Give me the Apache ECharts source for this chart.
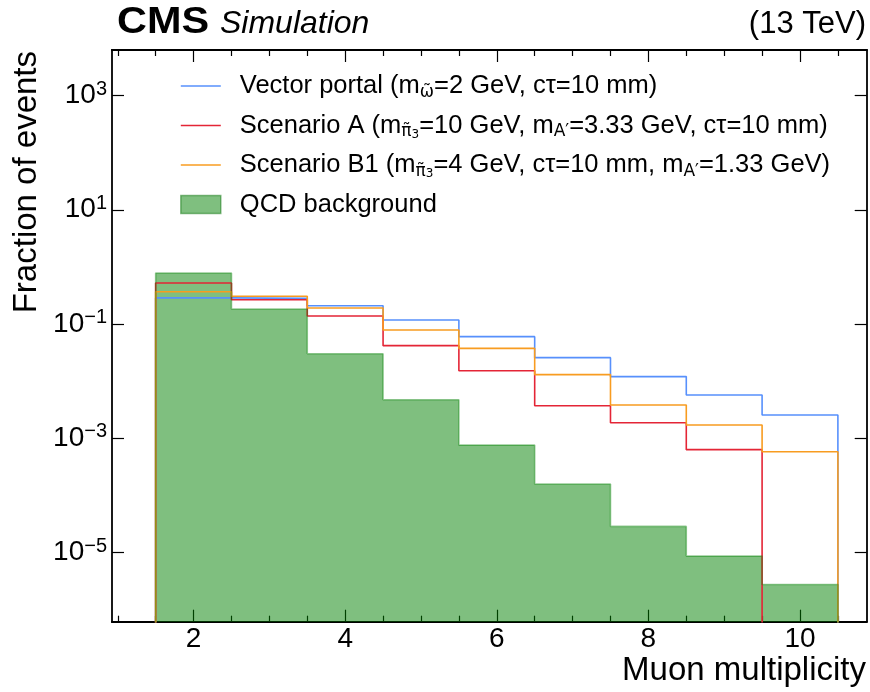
<!DOCTYPE html>
<html>
<head>
<meta charset="utf-8">
<script src="https://cdn.jsdelivr.net/npm/echarts@6/dist/echarts.min.js"></script>
<style>html,body{margin:0;padding:0;background:#fff}#c{width:870px;height:692px}</style>
</head>
<body>
<div id="c"></div>
<script>
// ---- data ----
const binEdges = [1.5, 2.5, 3.5, 4.5, 5.5, 6.5, 7.5, 8.5, 9.5, 10.5];
const vectorPortal = [0.285, 0.28, 0.208, 0.117, 0.0597, 0.0256, 0.0119, 0.00566, 0.00253];
const scenarioA   = [0.52, 0.265, 0.137, 0.0415, 0.0151, 0.00368, 0.00185, 0.000624, 0];
const scenarioB1  = [0.366, 0.304, 0.19, 0.078, 0.0372, 0.0129, 0.00379, 0.00169, 0.000575];
const qcdBackground = [0.78, 0.182, 0.030, 0.00469, 0.00075, 0.000156, 0.0000282, 0.0000085, 0.0000027];
const xMajorTicks = [2, 4, 6, 8, 10];
const xMinorTicks = [1, 1.5, 2.5, 3, 3.5, 4.5, 5, 5.5, 6.5, 7, 7.5, 8.5, 9, 9.5, 10.5];
const yTickExponents = [-5, -3, -1, 1, 3];
const seriesNames = ['Vector portal', 'Scenario A', 'Scenario B1', 'QCD background'];
const legendLabels = {
  'Vector portal': '{t|Vector portal (m}{sub|ω̃}{t|=2 GeV, cτ=10 mm)}',
  'Scenario A': '{t|Scenario A (m}{sub|π̃}{ss|3}{t|=10 GeV, m}{sub|A′}{t|=3.33 GeV, cτ=10 mm)}',
  'Scenario B1': '{t|Scenario B1 (m}{sub|π̃}{ss|3}{t|=4 GeV, cτ=10 mm, m}{sub|A′}{t|=1.33 GeV)}',
  'QCD background': '{t|QCD background}'
};

// ---- axis config (log10 units) ----
const X_MIN = 0.924, X_MAX = 10.88;
const Y_MIN = -6.22, Y_MAX = 3.80;
const FLOOR = Y_MIN - 6;
const FONT = "'Liberation Sans', Arial, Helvetica, sans-serif";
const SUBFONT = "'DejaVu Sans', 'Liberation Sans', sans-serif";

function toLog(v) { return v > 0 ? Math.log10(v) : FLOOR; }
function stepPoints(values) {
  const pts = [[binEdges[0], FLOOR]];
  values.forEach((v, i) => pts.push([binEdges[i], toLog(v)]));
  pts.push([binEdges[values.length], toLog(values[values.length - 1])]);
  pts.push([binEdges[values.length], FLOOR]);
  return pts;
}

function xAxisDef(pos, ticks, len, labels) {
  return {
    type: 'value', position: pos, min: X_MIN, max: X_MAX,
    axisLine: { show: true, onZero: false, lineStyle: { color: '#000', width: 1.8 } },
    axisTick: { show: true, inside: true, length: len, customValues: ticks, lineStyle: { color: '#000', width: 1.2 } },
    axisLabel: labels ? { show: true, customValues: ticks, margin: 4, color: '#000', fontSize: 28, fontFamily: FONT } : { show: false },
    splitLine: { show: false }
  };
}
function yAxisDef(pos, labels) {
  return {
    type: 'value', position: pos, min: Y_MIN, max: Y_MAX,
    axisLine: { show: true, onZero: false, lineStyle: { color: '#000', width: 1.8 } },
    axisTick: { show: true, inside: true, length: 12, customValues: yTickExponents, lineStyle: { color: '#000', width: 1.2 } },
    axisLabel: labels ? {
      show: true, customValues: yTickExponents, margin: 5,
      formatter: v => '{b|10}{s|' + (v < 0 ? '\u2212' : '') + Math.abs(v) + '}',
      rich: {
        b: { fontSize: 28, lineHeight: 32, fontFamily: FONT, color: '#000' },
        s: { fontSize: 20, lineHeight: 24, fontFamily: FONT, color: '#000', verticalAlign: 'top' }
      }
    } : { show: false },
    splitLine: { show: false }
  };
}

const colors = ['#5790fc', '#e42536', '#f89c20'];
const lineData = [vectorPortal, scenarioA, scenarioB1];
const series = lineData.map((vals, i) => ({
  name: seriesNames[i], type: 'line', step: 'end', xAxisIndex: 0, yAxisIndex: 0,
  data: stepPoints(vals), symbol: 'none', showSymbol: false, clip: true,
  color: colors[i], lineStyle: { color: colors[i], width: 1.6 }
}));
series.push({
  name: seriesNames[3], type: 'line', step: 'end', xAxisIndex: 0, yAxisIndex: 0,
  data: stepPoints(qcdBackground), symbol: 'none', showSymbol: false, clip: true,
  color: 'rgba(0,128,0,0.5)',
  lineStyle: { color: 'rgba(0,128,0,0.4)', width: 1.6 },
  areaStyle: { color: 'rgba(0,128,0,0.5)', origin: 'start', opacity: 1 }
});

const hiddenSymbol = { color: 'rgba(0,0,0,0)', borderColor: 'rgba(0,0,0,0)', borderWidth: 0, opacity: 0 };

const chart = echarts.init(document.getElementById('c'), null, { renderer: 'canvas' });
chart.setOption({
  animation: false,
  backgroundColor: '#fff',
  grid: { left: 112, right: 3.3, top: 50, bottom: 70.3, containLabel: false },
  xAxis: [
    xAxisDef('bottom', xMajorTicks, 12, true),
    xAxisDef('bottom', xMinorTicks, 6, false),
    xAxisDef('top', xMajorTicks, 12, false),
    xAxisDef('top', xMinorTicks, 6, false)
  ],
  yAxis: [yAxisDef('left', true), yAxisDef('right', false)],
  legend: {
    orient: 'vertical', left: 180, top: 73, padding: 0, itemGap: 11.5,
    itemWidth: 40, itemHeight: 18, symbolKeepAspect: false, selectedMode: false,
    data: [
      { name: seriesNames[0], itemStyle: hiddenSymbol, lineStyle: { color: colors[0], width: 1.6, opacity: 1 } },
      { name: seriesNames[1], itemStyle: hiddenSymbol, lineStyle: { color: colors[1], width: 1.6, opacity: 1 } },
      { name: seriesNames[2], itemStyle: hiddenSymbol, lineStyle: { color: colors[2], width: 1.6, opacity: 1 } },
      { name: seriesNames[3], icon: 'rect', itemStyle: { color: 'rgba(0,128,0,0.5)', borderColor: 'rgba(0,110,0,0.45)', borderWidth: 1.5 } }
    ],
    formatter: n => legendLabels[n],
    textStyle: {
      padding: [0, 0, 0, 14], color: '#000',
      rich: {
        t: { fontSize: 25.5, lineHeight: 30, fontFamily: FONT, color: '#000' },
        sub: { fontSize: 17, lineHeight: 17, fontFamily: SUBFONT, color: '#000', verticalAlign: 'bottom' },
        ss: { fontSize: 12, lineHeight: 10, fontFamily: SUBFONT, color: '#000', verticalAlign: 'bottom' }
      }
    }
  },
  graphic: [
    { type: 'text', x: 117, y: 23, scaleX: 1.15, style: { text: 'CMS', font: 'bold 36px ' + FONT, fill: '#000', align: 'left', verticalAlign: 'middle' } },
    { type: 'text', x: 220, y: 24, style: { text: 'Simulation', font: 'italic 32px ' + FONT, fill: '#000', align: 'left', verticalAlign: 'middle' } },
    { type: 'text', x: 866, y: 24, style: { text: '(13 TeV)', font: '31px ' + FONT, fill: '#000', align: 'right', verticalAlign: 'middle' } },
    { type: 'text', x: 866, y: 671, style: { text: 'Muon multiplicity', font: '33px ' + FONT, fill: '#000', align: 'right', verticalAlign: 'middle' } },
    { type: 'text', x: 27, y: 51, rotation: Math.PI / 2, style: { text: 'Fraction of events', font: '33px ' + FONT, fill: '#000', align: 'right', verticalAlign: 'middle' } }
  ],
  series: series
});
</script>
</body>
</html>
